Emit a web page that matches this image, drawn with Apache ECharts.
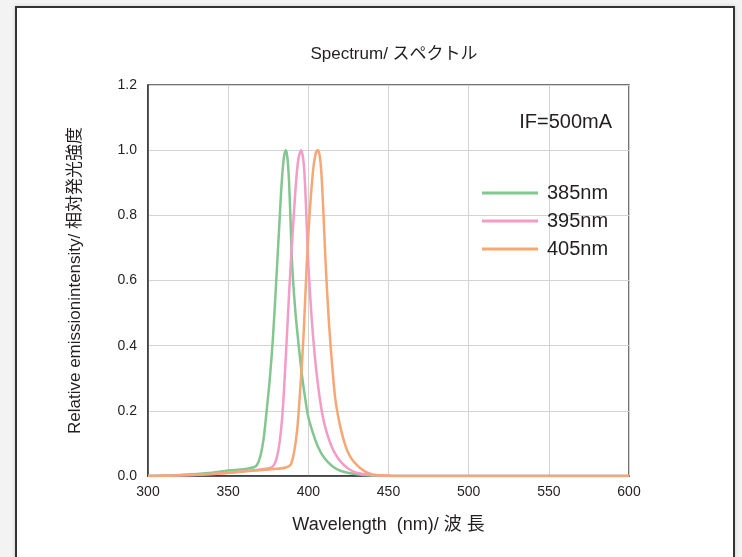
<!DOCTYPE html>
<html>
<head>
<meta charset="utf-8">
<script src="https://cdn.jsdelivr.net/npm/echarts@6/dist/echarts.min.js"></script>
<style>
html,body{margin:0;padding:0;background:#f3f3f3;width:742px;height:557px;overflow:hidden;}
#frame{position:absolute;left:15px;top:6px;width:716px;height:560px;background:#fff;border:2px solid #333;box-shadow:0 0 4px rgba(0,0,0,0.15);}
#chart{position:absolute;left:0;top:0;width:742px;height:557px;}
</style>
</head>
<body>
<div id="frame"></div>
<div id="chart"></div>
<script>
var seriesNames = ['385nm', '395nm', '405nm'];
var seriesColors = ['#82c690', '#f39cc6', '#f6a774'];
var xTicks = [300, 350, 400, 450, 500, 550, 600];
var yTicks = [0.0, 0.2, 0.4, 0.6, 0.8, 1.0, 1.2];

var data385 = [
  [300,0],[320,0.003],[340,0.01],[350,0.017],[360,0.021],[366,0.027],[368,0.034],[370,0.06],
  [372,0.11],[374,0.2],[376,0.3],[378,0.43],[380,0.6],[382,0.78],[383,0.87],[384,0.94],
  [385,0.985],[386,1.0],[387,0.975],[388,0.9],[389,0.77],[390,0.64],[392,0.5],[394,0.4],
  [396,0.31],[398,0.24],[400,0.18],[403,0.13],[406,0.09],[410,0.055],[415,0.03],[420,0.016],
  [430,0.005],[440,0.001],[450,0],[600,0]
];
var data395 = [
  [300,0],[330,0.004],[350,0.01],[360,0.015],[370,0.02],[376,0.025],[378,0.03],[380,0.05],
  [382,0.1],[384,0.2],[386,0.37],[388,0.56],[390,0.73],[392,0.88],[393,0.94],[394,0.978],
  [395.5,1.0],[397,0.965],[398,0.89],[399,0.77],[400,0.65],[402,0.49],[404,0.37],[406,0.28],
  [408,0.21],[410,0.16],[413,0.11],[416,0.075],[420,0.045],[425,0.022],[430,0.01],[440,0.003],
  [450,0.001],[460,0],[600,0]
];
var data405 = [
  [300,0],[320,0.002],[340,0.006],[350,0.01],[360,0.014],[370,0.018],[380,0.022],[386,0.026],
  [389,0.035],[391,0.07],[393,0.14],[395,0.27],[397,0.43],[399,0.65],[401,0.82],[403,0.94],
  [404,0.975],[405,0.995],[406,1.0],[407,0.985],[408,0.94],[409,0.85],[410,0.74],[411,0.63],
  [413,0.46],[415,0.33],[417,0.23],[420,0.15],[423,0.095],[426,0.06],[430,0.035],[435,0.015],
  [440,0.005],[450,0.001],[460,0],[600,0]
];
var allData = [data385, data395, data405];

var chart = echarts.init(document.getElementById('chart'), null, {renderer: 'canvas'});
var font = '"Liberation Sans", Arial, "Noto Sans CJK JP", sans-serif';
var option = {
  backgroundColor: 'transparent',
  animation: false,
  title: {
    text: 'Spectrum/ スペクトル',
    left: 389, top: 41, textAlign: 'center',
    textStyle: {fontFamily: font, fontSize: 17, fontWeight: 'normal', color: '#231f20'}
  },
  grid: {
    left: 148, right: 113, top: 85, bottom: 81,
    show: true, borderColor: '#444', borderWidth: 1.5, backgroundColor: 'transparent'
  },
  legend: {
    orient: 'vertical',
    left: 477, top: 178,
    itemWidth: 56, itemHeight: 3, itemGap: 8,
    icon: 'rect',
    textStyle: {fontFamily: font, fontSize: 20, color: '#231f20', padding: [0,0,0,4]},
    data: seriesNames
  },
  graphic: [{
    type: 'text', right: 130, top: 112,
    style: {text: 'IF=500mA', fontFamily: font, fontSize: 20, fill: '#231f20'}
  }],
  xAxis: {
    type: 'value', min: 300, max: 600, interval: 50,
    name: 'Wavelength  (nm)/ 波 長', nameLocation: 'middle', nameGap: 40,
    nameTextStyle: {fontFamily: font, fontSize: 18, color: '#231f20'},
    axisLine: {show: true, lineStyle: {color: '#333', width: 1.5}},
    axisTick: {show: false},
    axisLabel: {fontFamily: font, fontSize: 14, color: '#231f20', margin: 9,
      formatter: function(v){ return xTicks.indexOf(v) >= 0 ? String(v) : ''; }},
    splitLine: {show: true, lineStyle: {color: '#d3d3d3', width: 1}}
  },
  yAxis: {
    type: 'value', min: 0, max: 1.2, interval: 0.2,
    name: 'Relative emissionintensity/ 相対発光強度', nameLocation: 'middle', nameGap: 64,
    nameTextStyle: {fontFamily: font, fontSize: 17, color: '#231f20'},
    axisLine: {show: true, lineStyle: {color: '#333', width: 1.5}},
    axisTick: {show: false},
    axisLabel: {fontFamily: font, fontSize: 14, color: '#231f20', margin: 11,
      formatter: function(v){ return (Math.round(v*10)/10).toFixed(1); }},
    splitLine: {show: true, lineStyle: {color: '#d3d3d3', width: 1}}
  },
  series: seriesNames.map(function(n, i){
    return {
      name: n, type: 'line', data: allData[i], smooth: 0.3, showSymbol: false,
      lineStyle: {color: seriesColors[i], width: 2.5},
      itemStyle: {color: seriesColors[i]}
    };
  })
};
chart.setOption(option);
</script>
</body>
</html>
